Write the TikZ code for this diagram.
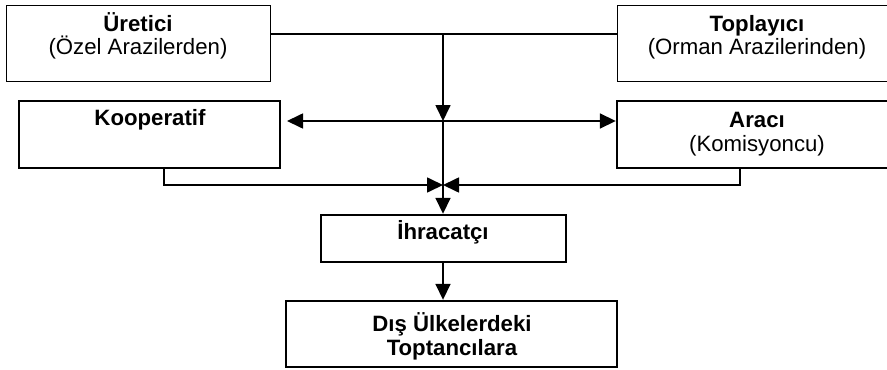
\documentclass[tikz,border=0pt]{standalone}
\usepackage{fontspec}
\setmainfont{Liberation Sans}
\usetikzlibrary{arrows.meta}
\usetikzlibrary{positioning}
\usetikzlibrary{calc}
\tikzstyle{thinbox}=[draw,line width=0.5pt,inner sep=0pt]
\tikzstyle{thickbox}=[draw,line width=1.2pt,inner sep=0pt]
\tikzstyle{edge} = [draw,line width=0.85pt,-{Triangle[length=8pt,width=7.5pt]}]
\tikzstyle{twoedge} = [draw,line width=0.85pt,{Triangle[length=8pt,width=7.5pt]}-{Triangle[length=8pt,width=7.5pt]}]
\tikzstyle{weight} = [anchor=base,align=center,inner sep=0pt,font=\fontsize{11.1}{11.8}\selectfont]

\begin{document}
\begin{tikzpicture}[x=0.5pt,y=-0.5pt]
\clip (0,0) rectangle (887,369);

% boxes
    \node[thinbox, minimum width=132pt, minimum height=38pt] (uretici) at (138,44) {};
    \node[thinbox, minimum width=140.5pt, minimum height=38pt] (toplayici) at (757.5,44) {};

  \foreach \pos/\name/\w/\h in {{(149.5,134.5)/kooperatif/130.5pt/33.5pt}, {(757.5,134.5)/araci/140.5pt/33.5pt},
        {(443.5,238.5)/ihracatci/122.5pt/23.5pt}, {(451.5,334)/dis/165.5pt/33pt}}
        \node[thickbox, minimum width=\w, minimum height=\h] (\name) at \pos {};

% texts (base = last line)
    \node[weight] (uretici-t) at (138,55) {\textbf{Üretici}\\(Özel Arazilerden)};
    \node[weight] (toplayici-t) at (757,55) {\textbf{Toplayıcı}\\(Orman Arazilerinden)};
    \node[weight] (kooperatif-t) at (150,126) {\textbf{Kooperatif}};
    \node[weight] (araci-t) at (757,151) {\textbf{Aracı}\\(Komisyoncu)};
    \node[weight] (ihracatci-t) at (443,239) {\textbf{İhracatçı}};
    \node[weight] (dis-t) at (452,355) {\textbf{Dış Ülkelerdeki}\\\textbf{Toptancılara}};

% connectors
    \coordinate (top) at (443,34);
    \coordinate (mid) at (443,121);
    \coordinate (kleft) at (287,121);
    \coordinate (join) at (443,185);
    \coordinate (kout) at (164,185);
    \coordinate (aout) at (740,185);

    \path[draw,line width=0.85pt] (uretici.east |- top) -- (toplayici.west |- top);
    \path[edge] (top) -- (mid);
    \path[edge] (mid) -- (ihracatci.north -| mid);
    \path[twoedge] (kleft) -- (araci.west |- mid);
    \path[edge] (kooperatif.south -| kout) -- (kout) -- (join);
    \path[edge] (araci.south -| aout) -- (aout) -- (join);
    \path[edge] (ihracatci.south -| mid) -- (dis.north -| mid);

\end{tikzpicture}
\end{document}
